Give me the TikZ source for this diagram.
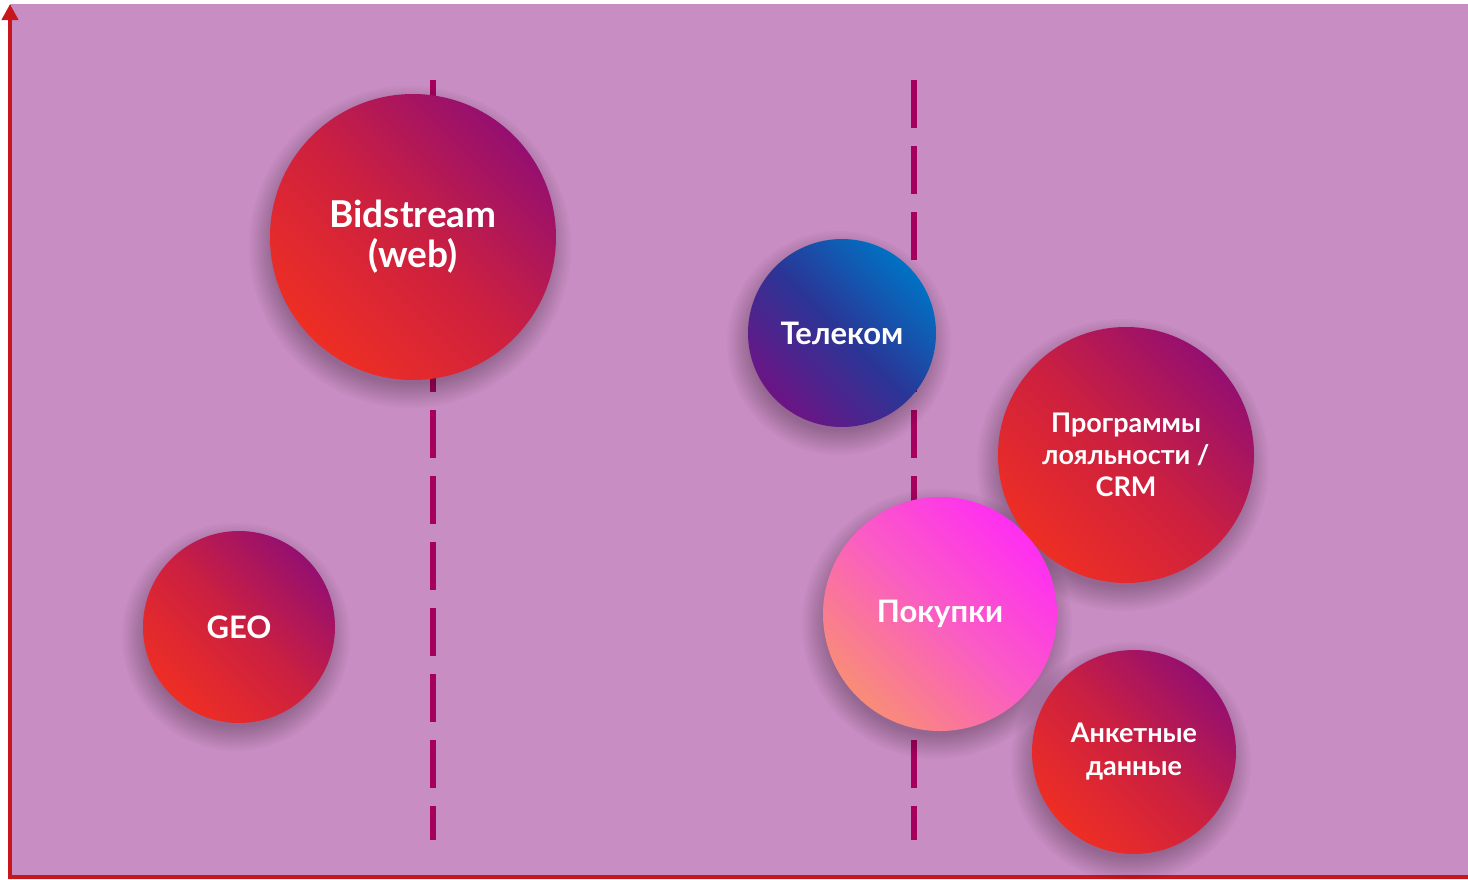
\documentclass[tikz,border=0pt]{standalone}
\usepackage{fontspec}
\setmainfont{Lato}
\usepackage{xcolor}
\usetikzlibrary{arrows.meta}

\definecolor{bgplum}{HTML}{C88DC3}
\definecolor{axisred}{HTML}{C8161D}
\definecolor{dashplum}{HTML}{A6005E}
\definecolor{hotred}{HTML}{EE2E24}
\definecolor{crimson}{HTML}{CC2040}
\definecolor{berry}{HTML}{950F70}
\definecolor{teleblue}{HTML}{0072C4}
\definecolor{telemid}{HTML}{2B3596}
\definecolor{televiolet}{HTML}{6C1484}
\definecolor{pinkhot}{HTML}{FF2EF2}
\definecolor{pinkmid}{HTML}{FA5CC4}
\definecolor{salmon}{HTML}{F98C78}

% soft shadow under a bubble: x, y, radius
\newcommand\bubbleshade[3]{%
  \foreach \k in {0,...,12}
    \fill[black,opacity=0.018] (#1-3,#2+10) circle[radius=#3-6+2*\k];}

\begin{document}
\begin{tikzpicture}[x=0.5pt,y=-0.5pt,
    bubble/.style={circle,inner sep=0pt,align=center,text=white},
    red bubble/.style={bubble,bottom color=hotred,top color=berry,
      middle color=crimson,shading angle=-45},
    blue bubble/.style={bubble,bottom color=televiolet,top color=teleblue,
      middle color=telemid,shading angle=-45},
    pink bubble/.style={bubble,bottom color=salmon,top color=pinkhot,
      middle color=pinkmid,shading angle=-45},
    dash line/.style={dashplum,line width=3pt,dash pattern=on 24pt off 9pt},
    axis line/.style={axisred,line width=2pt}]

    \useasboundingbox (0,0) rectangle (1468,879);
    \fill[bgplum] (10,4) rectangle (1468,876);

    \coordinate (origin) at (10,877);
    \coordinate (ytop) at (10,4);
    \coordinate (xend) at (1468,877);
    \draw[axis line,-{Triangle[length=8pt,width=8pt]}] (origin) -- (ytop);
    \draw[axis line] ([xshift=-1pt]origin) -- (xend);

    % border lines
    \draw[dash line] (433,80) -- (433,840);
    \draw[dash line] (914,80) -- (914,840);

    % shadows
    \bubbleshade{413}{237}{143}
    \bubbleshade{842}{333}{94}
    \bubbleshade{1126}{455}{128}
    \bubbleshade{940}{614}{117}
    \bubbleshade{239}{627}{96}
    \bubbleshade{1134}{752}{102}

    \node[red bubble,minimum size=143pt,font=\bfseries\fontsize{18.5}{20}\selectfont] (bid) at (413,237) {Bidstream\\(web)};
    \node[blue bubble,minimum size=94pt,font=\bfseries\fontsize{15.5}{17}\selectfont] (tel) at (842,333) {Телеком};
    \node[red bubble,minimum size=128pt,font=\bfseries\fontsize{13.5}{16}\selectfont] (crm) at (1126,455) {Программы\\лояльности /\\CRM};
    \node[pink bubble,minimum size=117pt,font=\bfseries\fontsize{15.5}{17}\selectfont] (shop) at (940,614) {Покупки};
    \node[red bubble,minimum size=96pt,font=\bfseries\fontsize{15.5}{17}\selectfont] (geo) at (239,627) {GEO};
    \node[red bubble,minimum size=102pt,font=\bfseries\fontsize{13.5}{16.5}\selectfont] (form) at (1134,752) {Анкетные\\данные};

\end{tikzpicture}
\end{document}
